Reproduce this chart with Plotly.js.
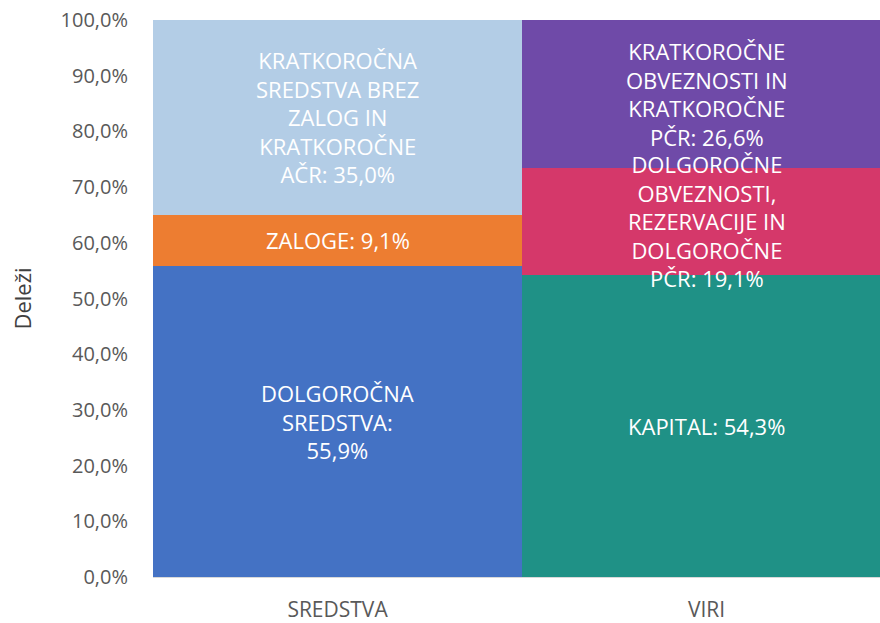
<!DOCTYPE html>
<html>
<head>
<meta charset="utf-8">
<script src="https://cdn.plot.ly/plotly-3.0.1.min.js"></script>
<style>html,body{margin:0;padding:0;background:#fff;}#chart{width:880px;height:623px;}</style>
</head>
<body>
<div id="chart"></div>
<script>
const categories = ["SREDSTVA", "VIRI"];
// bottom to top segments for each category
const sredstvaNames = ["DOLGOROČNA<br>SREDSTVA:<br>55,9%", "ZALOGE: 9,1%", "KRATKOROČNA<br>SREDSTVA BREZ<br>ZALOG IN<br>KRATKOROČNE<br>AČR: 35,0%"];
const sredstvaValues = [55.9, 9.1, 35.0];
const sredstvaColors = ["#4472C4", "#ED7D31", "#B3CDE6"];
const viriNames = ["KAPITAL: 54,3%", "DOLGOROČNE<br>OBVEZNOSTI,<br>REZERVACIJE IN<br>DOLGOROČNE<br>PČR: 19,1%", "KRATKOROČNE<br>OBVEZNOSTI IN<br>KRATKOROČNE<br>PČR: 26,6%"];
const viriValues = [54.3, 19.1, 26.6];
const viriColors = ["#1F9186", "#D5386A", "#6F4AA8"];
const yTickVals = [0,10,20,30,40,50,60,70,80,90,100];
const yTickText = ["0,0%","10,0%","20,0%","30,0%","40,0%","50,0%","60,0%","70,0%","80,0%","90,0%","100,0%"];

const traces = [];
const annotations = [];
function addStack(cat, names, values, colors) {
  let base = 0;
  for (let i = 0; i < values.length; i++) {
    const x = [], y = [];
    categories.forEach(c => { x.push(c); y.push(c === cat ? values[i] : 0); });
    traces.push({
      type: "bar", x: x, y: y, name: names[i],
      marker: {color: colors[i], line: {width: 0}},
      hoverinfo: "none", showlegend: false
    });
    annotations.push({
      x: cat, y: base + values[i] / 2, xref: "x", yref: "y",
      text: names[i], showarrow: false,
      font: {family: "Open Sans, sans-serif", size: 22, color: "#FFFFFF"},
      align: "center"
    });
    base += values[i];
  }
}
addStack("SREDSTVA", sredstvaNames, sredstvaValues, sredstvaColors);
addStack("VIRI", viriNames, viriValues, viriColors);

const layout = {
  width: 880, height: 623,
  margin: {l: 153, r: 0, t: 20, b: 46},
  barmode: "stack", bargap: 0,
  paper_bgcolor: "#FFFFFF", plot_bgcolor: "#FFFFFF",
  font: {family: "Open Sans, sans-serif", color: "#595959"},
  xaxis: {
    type: "category", range: [-0.5, 1.47],
    showgrid: false, zeroline: false,
    showline: true, linecolor: "#D9D9D9", linewidth: 1,
    ticks: "", tickfont: {size: 21, color: "#595959"},
    ticklabelstandoff: 14
  },
  yaxis: {
    range: [0, 100], tickvals: yTickVals, ticktext: yTickText,
    showgrid: false, zeroline: false, showline: false,
    ticks: "", tickfont: {size: 20, color: "#595959"},
    ticklabelstandoff: 24,
    title: {text: "Deleži", font: {size: 22, color: "#404040"}, standoff: 22}
  },
  annotations: annotations
};
Plotly.newPlot("chart", traces, layout, {staticPlot: true, displayModeBar: false});
</script>
</body>
</html>
